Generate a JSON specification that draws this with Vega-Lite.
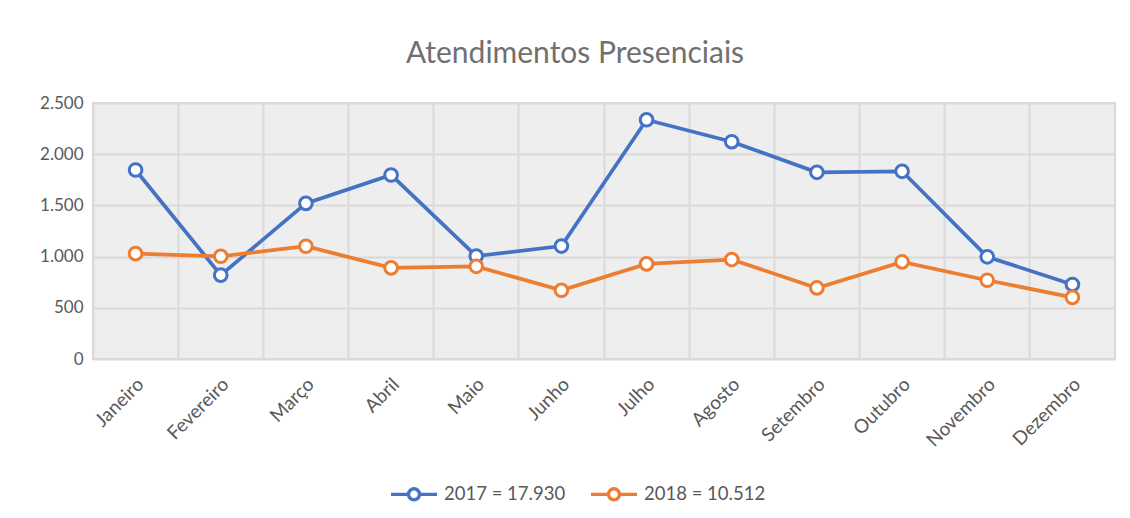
{
  "$schema": "https://vega.github.io/schema/vega-lite/v6.json",
  "width": 1022,
  "height": 256,
  "autosize": "none",
  "padding": {"left": 93, "top": 103, "right": 15, "bottom": 159},
  "background": "white",
  "title": {
    "text": "Atendimentos Presenciais",
    "font": "Lato",
    "fontSize": 30,
    "fontWeight": "normal",
    "color": "#707070",
    "anchor": "middle",
    "baseline": "alphabetic",
    "dx": -29,
    "offset": 1
  },
  "config": {
    "locale": {"number": {"decimal": ",", "thousands": ".", "grouping": [3], "currency": ["R$", ""]}},
    "view": {"fill": "#eeeeee", "stroke": "#d9d9d9", "strokeWidth": 2},
    "font": "Lato"
  },
  "data": {
    "values": [
      {"mes": "Janeiro", "serie": "2017 = 17.930", "valor": 1846},
      {"mes": "Fevereiro", "serie": "2017 = 17.930", "valor": 819},
      {"mes": "Março", "serie": "2017 = 17.930", "valor": 1520},
      {"mes": "Abril", "serie": "2017 = 17.930", "valor": 1797},
      {"mes": "Maio", "serie": "2017 = 17.930", "valor": 1005},
      {"mes": "Junho", "serie": "2017 = 17.930", "valor": 1103},
      {"mes": "Julho", "serie": "2017 = 17.930", "valor": 2336},
      {"mes": "Agosto", "serie": "2017 = 17.930", "valor": 2122},
      {"mes": "Setembro", "serie": "2017 = 17.930", "valor": 1823},
      {"mes": "Outubro", "serie": "2017 = 17.930", "valor": 1833},
      {"mes": "Novembro", "serie": "2017 = 17.930", "valor": 998},
      {"mes": "Dezembro", "serie": "2017 = 17.930", "valor": 728},
      {"mes": "Janeiro", "serie": "2018 = 10.512", "valor": 1029},
      {"mes": "Fevereiro", "serie": "2018 = 10.512", "valor": 1003},
      {"mes": "Março", "serie": "2018 = 10.512", "valor": 1101},
      {"mes": "Abril", "serie": "2018 = 10.512", "valor": 890},
      {"mes": "Maio", "serie": "2018 = 10.512", "valor": 905},
      {"mes": "Junho", "serie": "2018 = 10.512", "valor": 671},
      {"mes": "Julho", "serie": "2018 = 10.512", "valor": 929},
      {"mes": "Agosto", "serie": "2018 = 10.512", "valor": 971},
      {"mes": "Setembro", "serie": "2018 = 10.512", "valor": 694},
      {"mes": "Outubro", "serie": "2018 = 10.512", "valor": 948},
      {"mes": "Novembro", "serie": "2018 = 10.512", "valor": 769},
      {"mes": "Dezembro", "serie": "2018 = 10.512", "valor": 602}
    ]
  },
  "encoding": {
    "x": {
      "field": "mes",
      "type": "ordinal",
      "sort": ["Janeiro", "Fevereiro", "Março", "Abril", "Maio", "Junho", "Julho", "Agosto", "Setembro", "Outubro", "Novembro", "Dezembro"],
      "scale": {"type": "band", "paddingInner": 0, "paddingOuter": 0},
      "axis": {
        "title": null,
        "grid": true,
        "gridColor": "#d9d9d9",
        "gridWidth": 2,
        "bandPosition": 0,
        "ticks": false,
        "domain": false,
        "labelAngle": -45,
        "labelAlign": "right",
        "labelBaseline": "middle",
        "labelOffset": 5,
        "labelPadding": 22,
        "labelFont": "Lato",
        "labelFontSize": 19,
        "labelColor": "#595959"
      }
    },
    "y": {
      "field": "valor",
      "type": "quantitative",
      "scale": {"domain": [0, 2500], "nice": false},
      "axis": {
        "title": null,
        "values": [0, 500, 1000, 1500, 2000, 2500],
        "format": ",.0f",
        "grid": true,
        "gridColor": "#d9d9d9",
        "gridWidth": 2,
        "ticks": false,
        "domain": false,
        "labelPadding": 10,
        "labelFont": "Lato",
        "labelFontSize": 17,
        "labelColor": "#595959"
      }
    },
    "color": {
      "field": "serie",
      "type": "nominal",
      "scale": {"domain": ["2017 = 17.930", "2018 = 10.512"], "range": ["#4472C4", "#ED7D31"]},
      "legend": {
        "title": null,
        "orient": "none",
        "direction": "horizontal",
        "legendX": 296,
        "legendY": 366,
        "padding": 0,
        "symbolType": "M-1,0H-0.24M0.24,0H1M0.24,0A0.24,0.24,0,1,1,-0.24,0A0.24,0.24,0,1,1,0.24,0Z",
        "symbolSize": 2116,
        "symbolStrokeWidth": 3.4,
        "symbolFillColor": "#ffffff",
        "labelOffset": 5,
        "columnPadding": 18,
        "labelFont": "Lato",
        "labelFontSize": 18.5,
        "labelColor": "#595959"
      }
    }
  },
  "layer": [
    {"mark": {"type": "line", "strokeWidth": 3.75}},
    {"mark": {"type": "point", "shape": "circle", "filled": false, "fill": "#ffffff", "fillOpacity": 1, "opacity": 1, "size": 160, "strokeWidth": 3}}
  ]
}
